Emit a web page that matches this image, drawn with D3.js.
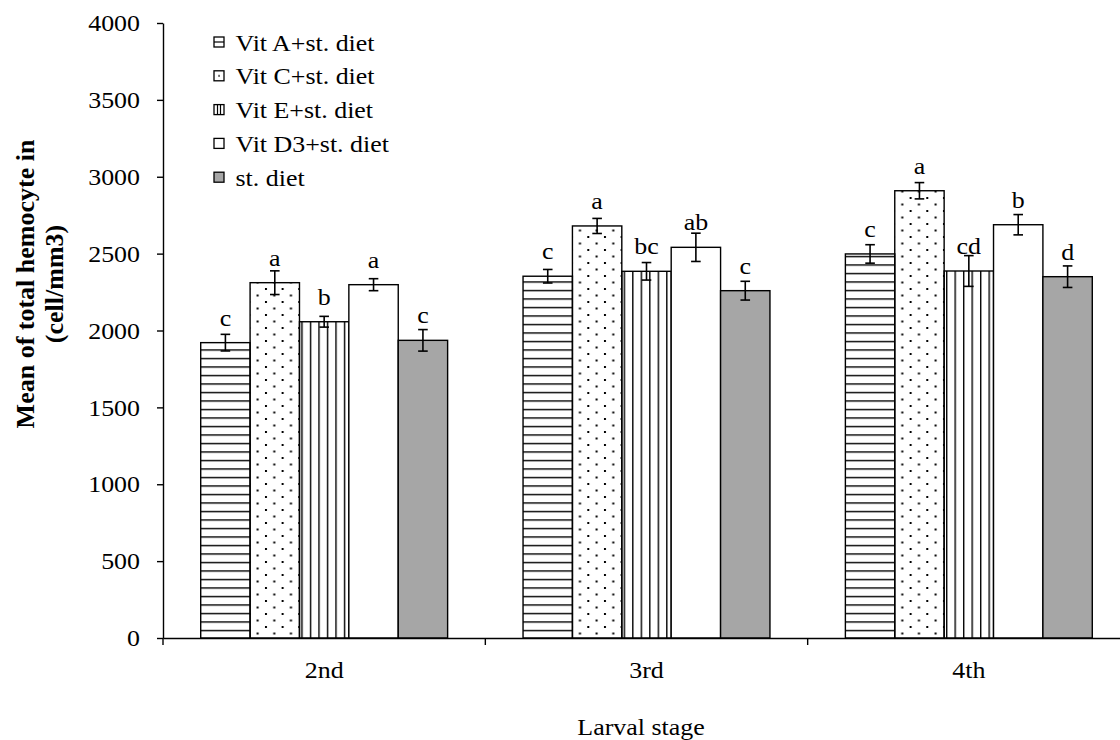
<!DOCTYPE html>
<html>
<head>
<meta charset="utf-8">
<script src="https://cdn.jsdelivr.net/npm/d3@7"></script>
<style>
  body { margin: 0; background: #fff; }
  text { font-family: "Liberation Serif", "Times New Roman", serif; fill: #000; }
</style>
</head>
<body>
<div id="chart-area"></div>
<script>
// values
var stages = ["2nd", "3rd", "4th"];
var seriesNames = ["Vit A+st. diet", "Vit C+st. diet", "Vit E+st. diet", "Vit D3+st. diet", "st. diet"];

var vitA  = [1921, 2353, 2498];
var vitC  = [2311, 2680, 2909];
var vitE  = [2057, 2385, 2387];
var vitD3 = [2298, 2541, 2688];
var stDiet = [1936, 2259, 2350];

var errA  = [54, 44, 60];
var errC  = [77, 49, 53];
var errE  = [35, 57, 100];
var errD3 = [39, 92, 66];
var errSt = [70, 61, 70];

var letA  = ["c", "c", "c"];
var letC  = ["a", "a", "a"];
var letE  = ["b", "bc", "cd"];
var letD3 = ["a", "ab", "b"];
var letSt = ["c", "c", "d"];

var yTicks = [0, 500, 1000, 1500, 2000, 2500, 3000, 3500, 4000];

var allValues = [vitA, vitC, vitE, vitD3, stDiet];
var allErrors = [errA, errC, errE, errD3, errSt];
var allLetters = [letA, letC, letE, letD3, letSt];
var fills = ["url(#hLines)", "url(#dots)", "url(#vLines)", "#ffffff", "#a6a6a6"];
var legendFills = ["url(#hLinesL)", "url(#dotsL)", "url(#vLinesL)", "#ffffff", "#a6a6a6"];

var width = 1120, height = 740;
var stretch = 1.08;   // text in the picture is a little wide
var fs = "24px";

var svg = d3.select("#chart-area").append("svg")
    .attr("width", width)
    .attr("height", height);

// fill patterns
var defs = svg.append("defs");

var ph = defs.append("pattern").attr("id", "hLines")
    .attr("patternUnits", "userSpaceOnUse")
    .attr("x", 0).attr("y", 638.3)
    .attr("width", 20).attr("height", 8.5);
ph.append("line").attr("x1", 0).attr("x2", 20).attr("y1", 0).attr("y2", 0)
    .attr("stroke", "#000").attr("stroke-width", 2.8);

var pv = defs.append("pattern").attr("id", "vLines")
    .attr("patternUnits", "userSpaceOnUse")
    .attr("x", 2.3).attr("y", 0)
    .attr("width", 8.5).attr("height", 20);
pv.append("line").attr("x1", 0).attr("x2", 0).attr("y1", 0).attr("y2", 20)
    .attr("stroke", "#000").attr("stroke-width", 2.8);

var pd = defs.append("pattern").attr("id", "dots")
    .attr("patternUnits", "userSpaceOnUse")
    .attr("x", 2).attr("y", 2)
    .attr("width", 16.66).attr("height", 13);
pd.append("rect").attr("x", 0).attr("y", 0).attr("width", 2).attr("height", 2).attr("fill", "#000");
pd.append("rect").attr("x", 8.33).attr("y", 6.5).attr("width", 2).attr("height", 2).attr("fill", "#000");

// small versions for the legend keys
var lh = defs.append("pattern").attr("id", "hLinesL")
    .attr("patternUnits", "objectBoundingBox").attr("width", 1).attr("height", 1);
lh.append("line").attr("x1", 0).attr("x2", 10).attr("y1", 5).attr("y2", 5)
    .attr("stroke", "#000").attr("stroke-width", 1.2);

var lv = defs.append("pattern").attr("id", "vLinesL")
    .attr("patternUnits", "objectBoundingBox").attr("width", 1).attr("height", 1);
lv.append("line").attr("x1", 3.5).attr("x2", 3.5).attr("y1", 0).attr("y2", 10)
    .attr("stroke", "#000").attr("stroke-width", 1.2);
lv.append("line").attr("x1", 6.5).attr("x2", 6.5).attr("y1", 0).attr("y2", 10)
    .attr("stroke", "#000").attr("stroke-width", 1.2);

var ld = defs.append("pattern").attr("id", "dotsL")
    .attr("patternUnits", "objectBoundingBox").attr("width", 1).attr("height", 1);
ld.append("rect").attr("x", 4.3).attr("y", 4.3).attr("width", 1.5).attr("height", 1.5).attr("fill", "#000");

// scales
var x0 = d3.scaleBand()
    .domain(stages)
    .range([163, 1130]);

var bw = x0.bandwidth();
var x1 = d3.scaleBand()
    .domain(seriesNames)
    .range([bw * 0.117, bw * 0.883]);

var y = d3.scaleLinear()
    .domain([0, 4000])
    .range([638, 23]);

// bars
var groups = svg.selectAll("g.stage")
    .data(stages)
    .enter().append("g")
    .attr("class", "stage")
    .attr("transform", function (d) { return "translate(" + x0(d) + ",0)"; });

var bars = groups.selectAll("g.bar")
    .data(function (d, si) {
        return seriesNames.map(function (name, k) {
            return {
                name: name, k: k,
                value: allValues[k][si],
                err: allErrors[k][si],
                letter: allLetters[k][si]
            };
        });
    })
    .enter().append("g")
    .attr("class", "bar");

bars.append("rect")
    .attr("x", function (d) { return x1(d.name); })
    .attr("width", x1.bandwidth())
    .attr("y", function (d) { return y(d.value); })
    .attr("height", function (d) { return y(0) - y(d.value); })
    .attr("fill", function (d) { return fills[d.k]; })
    .attr("stroke", "#000")
    .attr("stroke-width", 1.4);

// error bars
var cx = function (d) { return x1(d.name) + x1.bandwidth() / 2; };
bars.append("line")
    .attr("x1", cx).attr("x2", cx)
    .attr("y1", function (d) { return y(d.value + d.err); })
    .attr("y2", function (d) { return y(d.value - d.err); })
    .attr("stroke", "#000").attr("stroke-width", 1.6);
[1, -1].forEach(function (s) {
    bars.append("line")
        .attr("x1", function (d) { return cx(d) - 4.8; })
        .attr("x2", function (d) { return cx(d) + 4.8; })
        .attr("y1", function (d) { return y(d.value + s * d.err); })
        .attr("y2", function (d) { return y(d.value + s * d.err); })
        .attr("stroke", "#000").attr("stroke-width", 1.6);
});

// significance letters
bars.append("text")
    .attr("transform", function (d) {
        return "translate(" + cx(d) + "," + (y(d.value) - 17) + ") scale(" + stretch + ",1)";
    })
    .attr("text-anchor", "middle")
    .style("font-size", fs)
    .text(function (d) { return d.letter; });

// y axis
var yAxis = svg.append("g")
    .attr("transform", "translate(163,0)")
    .call(d3.axisLeft(y).tickValues(yTicks).tickFormat(d3.format("d")).tickSize(6).tickSizeOuter(0));
yAxis.select(".domain").attr("stroke-width", 1.4);
yAxis.selectAll(".tick line").attr("stroke-width", 1.4);
yAxis.selectAll(".tick text")
    .attr("x", -23 / stretch)
    .attr("transform", "scale(" + stretch + ",1)")
    .style("font-size", fs)
    .style("font-family", "Liberation Serif");

// x axis: labels at centres, ticks between groups
var xAxis = svg.append("g")
    .attr("transform", "translate(0,638)")
    .call(d3.axisBottom(x0).tickSize(0).tickPadding(23).tickSizeOuter(0));
xAxis.select(".domain").attr("stroke-width", 1.4);
xAxis.selectAll(".tick text")
    .attr("x", 0)
    .attr("transform", "scale(" + stretch + ",1)")
    .style("font-size", fs)
    .style("font-family", "Liberation Serif");

xAxis.selectAll("line.sep")
    .data(stages.map(function (s) { return x0(s); }).concat([x0.range()[1]]))
    .enter().append("line")
    .attr("class", "sep")
    .attr("x1", function (d) { return d; }).attr("x2", function (d) { return d; })
    .attr("y1", 0).attr("y2", 7)
    .attr("stroke", "#000").attr("stroke-width", 1.4);

// axis titles
svg.append("text")
    .attr("transform", "translate(641," + 735 + ") scale(" + stretch + ",1)")
    .attr("text-anchor", "middle")
    .style("font-size", fs)
    .text("Larval stage");

var yTitle = svg.append("text")
    .attr("transform", "translate(34,284) rotate(-90)")
    .attr("text-anchor", "middle")
    .style("font-size", "26px")
    .style("font-weight", "bold");
yTitle.append("tspan").attr("x", 0).attr("y", 0).text("Mean of total hemocyte in");
yTitle.append("tspan").attr("x", 0).attr("y", 29).text("(cell/mm3)");

// legend
var legend = svg.selectAll("g.legend")
    .data(seriesNames)
    .enter().append("g")
    .attr("class", "legend")
    .attr("transform", function (d, i) { return "translate(214," + (42 + i * 33.8) + ")"; });

legend.append("rect")
    .attr("x", 0).attr("y", -5)
    .attr("width", 10).attr("height", 10)
    .attr("fill", function (d, i) { return legendFills[i]; })
    .attr("stroke", "#000").attr("stroke-width", 1.3);

legend.append("text")
    .attr("transform", "translate(21.5,8.5) scale(" + stretch + ",1)")
    .style("font-size", fs)
    .text(function (d) { return d; });
</script>
</body>
</html>
